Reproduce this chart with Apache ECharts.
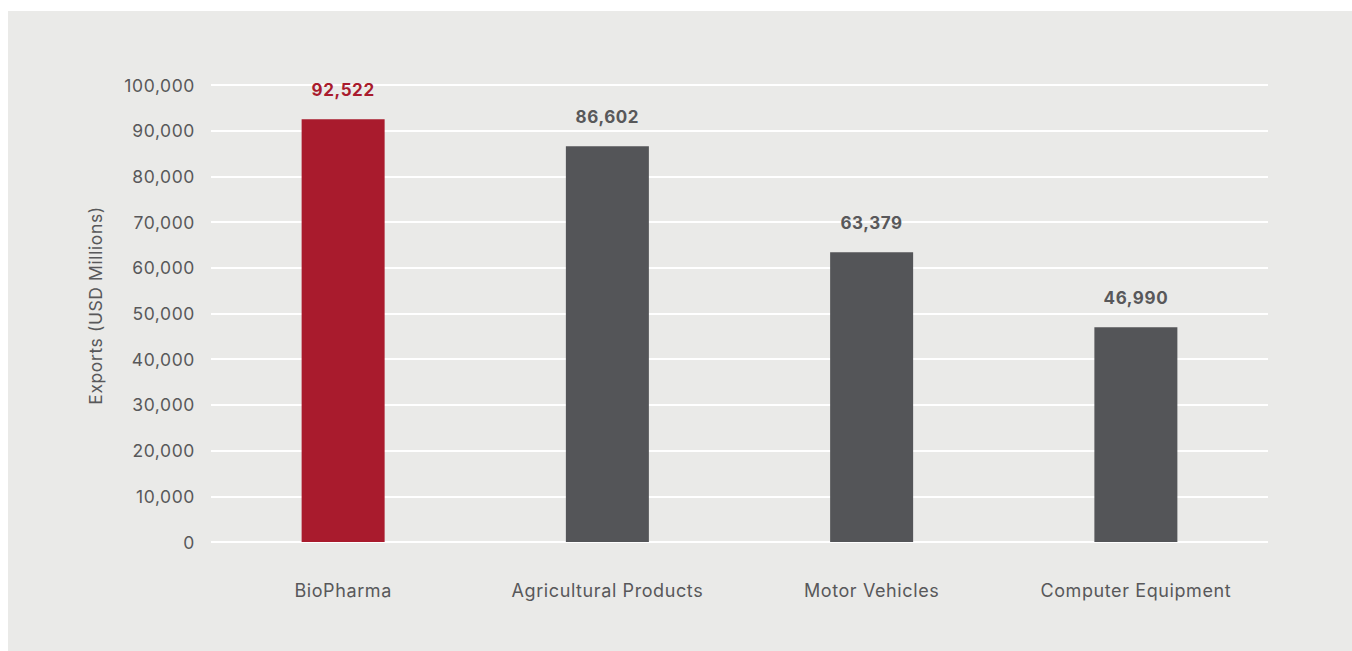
<!DOCTYPE html>
<html>
<head>
<meta charset="utf-8">
<script src="https://cdn.jsdelivr.net/npm/echarts@6/dist/echarts.min.js"></script>
<style>
  html, body { margin: 0; padding: 0; background: #ffffff; }
  #panel { position: absolute; left: 8px; top: 11px; right: 0; bottom: 0; background: #eaeae8; }
  #chart { position: absolute; left: 0; top: 0; width: 1352px; height: 651px; }
  /* slightly open tracking on all chart text */
  #chart svg text { letter-spacing: 0.6px; }
</style>
</head>
<body>
<div id="panel"></div>
<div id="chart"></div>
<script>
// Export values by sector, USD millions
const categories = ['BioPharma', 'Agricultural Products', 'Motor Vehicles', 'Computer Equipment'];
const exportsUsdMillions = [92522, 86602, 63379, 46990];
const highlightIndex = 0;

const textGray = '#58585a';
const barGray = '#545558';
const barRed = '#a91b2d';
const fontFamily = 'Inter, Roboto, "Noto Sans", sans-serif';

const chart = echarts.init(document.getElementById('chart'), null, { renderer: 'svg' });

chart.setOption({
  backgroundColor: 'transparent',
  animation: false,
  grid: { left: 211, right: 84, top: 85, bottom: 109, containLabel: false },
  xAxis: {
    type: 'category',
    data: categories,
    axisLine: { show: false },
    axisTick: { show: false },
    axisLabel: { color: textGray, fontSize: 18, fontFamily: fontFamily, margin: 39 }
  },
  yAxis: {
    type: 'value',
    min: 0,
    max: 100000,
    interval: 10000,
    name: 'Exports (USD Millions)',
    nameLocation: 'middle',
    nameGap: 107,
    nameTextStyle: { color: textGray, fontSize: 17.5, fontFamily: fontFamily, padding: [0, 0, 0, 16] },
    axisLine: { show: false },
    axisTick: { show: false },
    axisLabel: {
      color: textGray, fontSize: 17.5, fontFamily: fontFamily, margin: 16,
      formatter: v => v.toLocaleString('en-US')
    },
    splitLine: { lineStyle: { color: '#ffffff', width: 2 } }
  },
  series: [{
    type: 'bar',
    barWidth: 83,
    data: exportsUsdMillions.map((v, i) => ({
      value: v,
      itemStyle: { color: i === highlightIndex ? barRed : barGray },
      label: { color: i === highlightIndex ? barRed : textGray }
    })),
    label: {
      show: true,
      position: 'top',
      distance: 21,
      fontSize: 17,
      fontWeight: 'bold',
      fontFamily: fontFamily,
      formatter: p => p.value.toLocaleString('en-US')
    }
  }]
});
</script>
</body>
</html>
